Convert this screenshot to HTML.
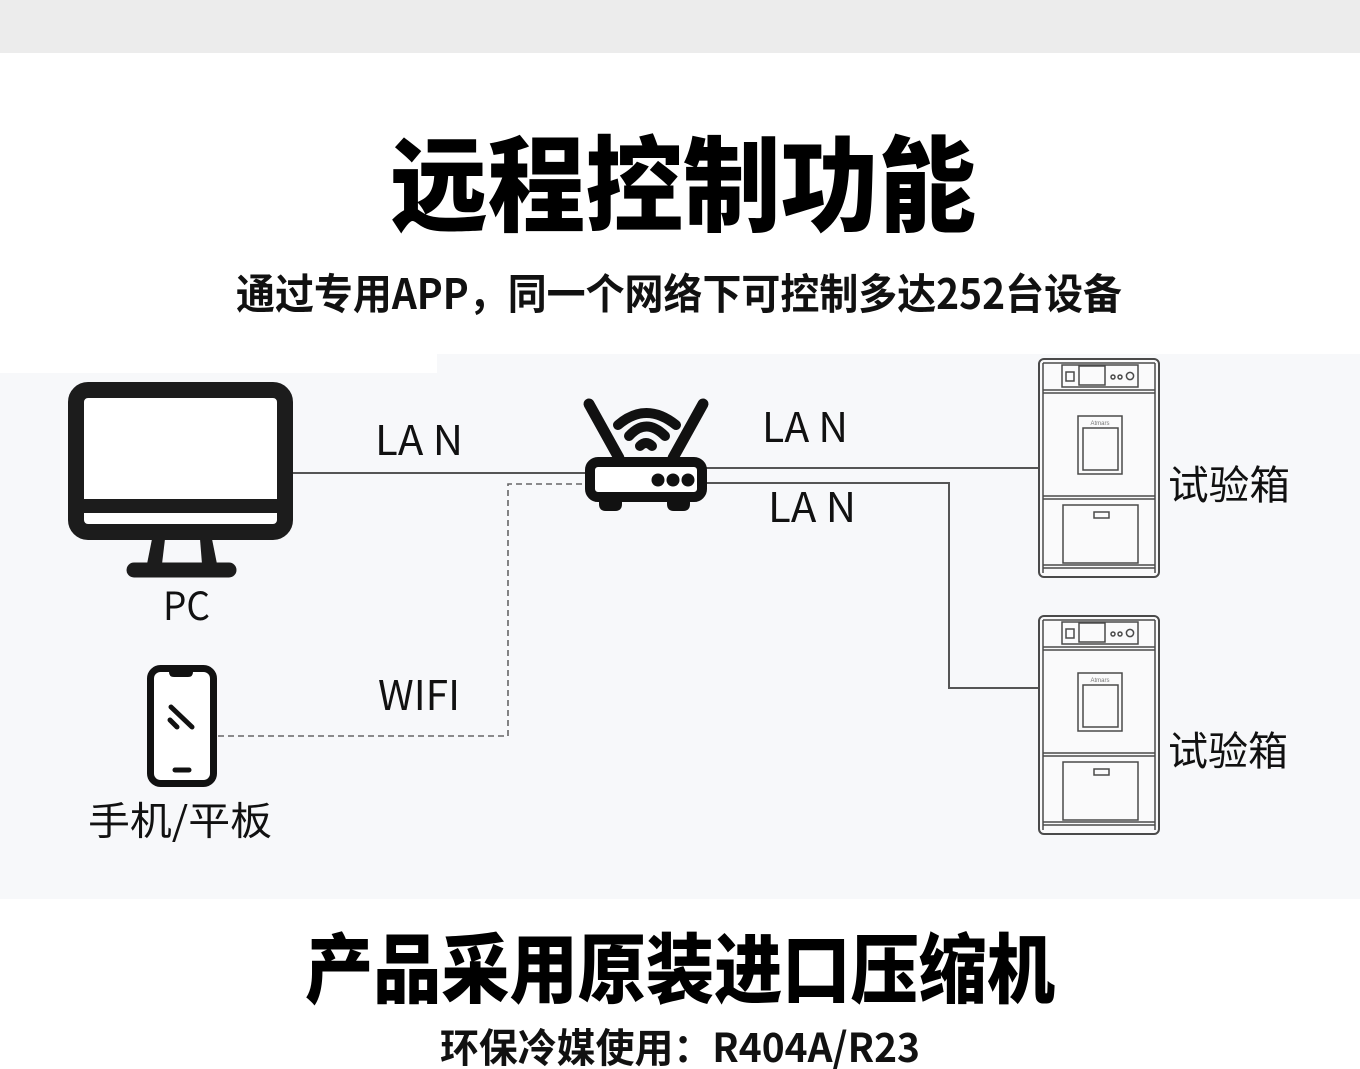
<!DOCTYPE html>
<html>
<head>
<meta charset="utf-8">
<style>
html,body{margin:0;padding:0;background:#fff;}
body{width:1360px;height:1069px;overflow:hidden;position:relative;}
svg{display:block;}
</style>
</head>
<body>
<svg width="1360" height="1069" viewBox="0 0 1360 1069" xmlns="http://www.w3.org/2000/svg">
  <!-- backgrounds -->
  <rect x="0" y="0" width="1360" height="1069" fill="#ffffff"/>
  <rect x="0" y="0" width="1360" height="53" fill="#ececec"/>
  <rect x="0" y="373" width="1360" height="526" fill="#f7f8fa"/>
  <rect x="437" y="354" width="923" height="20" fill="#f7f8fa"/>

  <!-- titles -->
  <text x="390" y="223" font-family="'Noto Sans CJK SC','WenQuanYi Zen Hei',sans-serif" font-weight="900" font-size="104" fill="#000" textLength="586" lengthAdjust="spacingAndGlyphs">远程控制功能</text>
  <text x="236" y="309" font-family="'Noto Sans CJK SC','WenQuanYi Zen Hei',sans-serif" font-weight="700" font-size="42" fill="#111" textLength="886" lengthAdjust="spacingAndGlyphs">通过专用APP，同一个网络下可控制多达252台设备</text>

  <!-- connectors -->
  <g fill="none" stroke="#555" stroke-width="2">
    <line x1="293" y1="473" x2="592" y2="473"/>
    <line x1="702" y1="468" x2="1040" y2="468"/>
    <polyline points="702,483 949,483 949,688 1040,688"/>
  </g>
  <polyline points="218,736 508,736 508,484 590,484" fill="none" stroke="#666" stroke-width="1.6" stroke-dasharray="6,4"/>

  <!-- connector labels -->
  <g font-family="'Noto Sans CJK SC','Liberation Sans',sans-serif" font-weight="400" fill="#111">
    <text x="375" y="455" font-size="41" textLength="88" lengthAdjust="spacingAndGlyphs">LA N</text>
    <text x="762" y="442" font-size="41" textLength="86" lengthAdjust="spacingAndGlyphs">LA N</text>
    <text x="768" y="522" font-size="41" textLength="88" lengthAdjust="spacingAndGlyphs">LA N</text>
    <text x="378" y="710" font-size="41" textLength="82" lengthAdjust="spacingAndGlyphs">WIFI</text>
    <text x="163" y="620" font-size="39" textLength="47" lengthAdjust="spacingAndGlyphs">PC</text>
    <text x="88" y="835" font-size="39" textLength="184" lengthAdjust="spacingAndGlyphs">手机/平板</text>
    <text x="1168" y="499" font-size="40" textLength="122" lengthAdjust="spacingAndGlyphs">试验箱</text>
    <text x="1168" y="765" font-size="40" textLength="120" lengthAdjust="spacingAndGlyphs">试验箱</text>
  </g>

  <!-- PC monitor -->
  <g fill="#1c1c1c">
    <rect x="76" y="390" width="209" height="142" rx="12" fill="#ffffff" stroke="#1c1c1c" stroke-width="16"/>
    <rect x="76" y="499" width="209" height="14"/>
    <polygon points="152,539 165,539 162,564 147,564"/>
    <polygon points="200,539 212,539 217,564 202,564"/>
    <line x1="134" y1="570" x2="229" y2="570" stroke="#1c1c1c" stroke-width="15" stroke-linecap="round"/>
  </g>

  <!-- Phone -->
  <g fill="none" stroke="#111" stroke-linecap="round">
    <rect x="150.5" y="668.5" width="63" height="115" rx="10" stroke-width="7" fill="#ffffff"/>
    <line x1="171" y1="707" x2="192" y2="727" stroke-width="5"/>
    <line x1="170" y1="720" x2="177" y2="727" stroke-width="5"/>
    <line x1="175" y1="770" x2="189" y2="770" stroke-width="5"/>
  </g>
  <path d="M169,668 L193,668 L193,672 Q193,677 188,677 L174,677 Q169,677 169,672 Z" fill="#111"/>

  <!-- Router -->
  <g stroke="#111" stroke-linecap="round" fill="none">
    <line x1="589" y1="404" x2="619" y2="458" stroke-width="11"/>
    <line x1="703" y1="404" x2="673" y2="458" stroke-width="11"/>
    <path d="M618,425 Q646,401 676,425" stroke-width="10"/>
    <path d="M629,436 Q646,417 665,436" stroke-width="10"/>
    <path d="M640,446 Q646,440 652,446" stroke-width="10"/>
    <rect x="590" y="462" width="112" height="35" rx="8" stroke-width="10" fill="#ffffff"/>
  </g>
  <g fill="#111">
    <circle cx="658" cy="480" r="6.5"/>
    <circle cx="673" cy="480" r="6.5"/>
    <circle cx="688" cy="480" r="6.5"/>
    <path d="M599,500 L622,500 L622,504 Q622,511 615,511 L606,511 Q599,511 599,504 Z"/>
    <path d="M667,500 L690,500 L690,504 Q690,511 683,511 L674,511 Q667,511 667,504 Z"/>
  </g>

  <!-- Chamber definition -->
  <defs>
    <g id="chamber">
      <rect x="1039" y="359" width="120" height="218" rx="5" fill="#fafafb" stroke="#4a4a4a" stroke-width="2"/>
      <g fill="none" stroke="#4a4a4a" stroke-width="1.5">
        <line x1="1043" y1="363" x2="1043" y2="573"/>
        <line x1="1155" y1="363" x2="1155" y2="573"/>
        <line x1="1043" y1="363" x2="1155" y2="363"/>
        <rect x="1062" y="365" width="76" height="22"/>
        <line x1="1043" y1="390" x2="1155" y2="390"/>
        <line x1="1043" y1="393" x2="1155" y2="393"/>
        <rect x="1066" y="372" width="8" height="9"/>
        <rect x="1079" y="366" width="26" height="19"/>
        <circle cx="1113" cy="377" r="2"/>
        <circle cx="1120" cy="377" r="2"/>
        <circle cx="1130" cy="376" r="3.6"/>
        <rect x="1078" y="416" width="44" height="58"/>
        <rect x="1083" y="428" width="35" height="42"/>
        <line x1="1043" y1="496" x2="1155" y2="496"/>
        <line x1="1043" y1="499" x2="1155" y2="499"/>
        <rect x="1063" y="505" width="75" height="58"/>
        <rect x="1094" y="512" width="15" height="6"/>
        <line x1="1043" y1="565" x2="1155" y2="565"/>
        <line x1="1043" y1="568" x2="1155" y2="568"/>
      </g>
      <text x="1100" y="425" font-family="'Liberation Sans',sans-serif" font-size="6" fill="#777" text-anchor="middle">Atmars</text>
    </g>
  </defs>
  <use href="#chamber"/>
  <use href="#chamber" transform="translate(0,257)"/>

  <!-- bottom titles -->
  <text x="305" y="997" font-family="'Noto Sans CJK SC','WenQuanYi Zen Hei',sans-serif" font-weight="900" font-size="76" fill="#000" textLength="750" lengthAdjust="spacingAndGlyphs">产品采用原装进口压缩机</text>
  <text x="440" y="1062" font-family="'Noto Sans CJK SC','WenQuanYi Zen Hei',sans-serif" font-weight="700" font-size="40" fill="#111" textLength="480" lengthAdjust="spacingAndGlyphs">环保冷媒使用：R404A/R23</text>
</svg>
</body>
</html>
